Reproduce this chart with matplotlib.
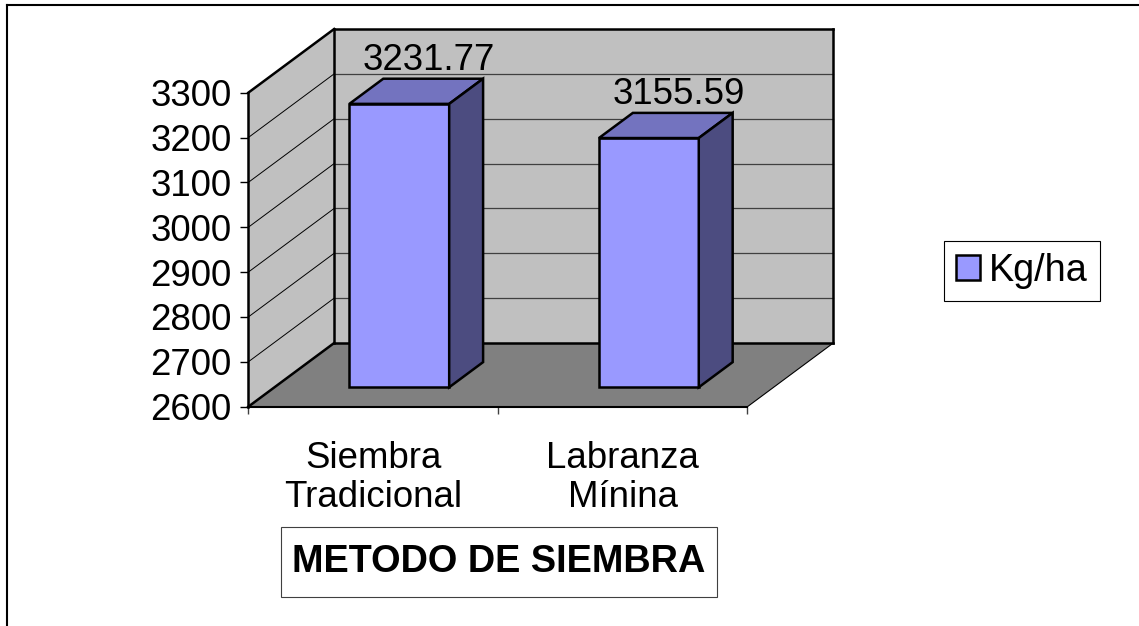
import matplotlib
matplotlib.use("Agg")
import matplotlib.pyplot as plt
from matplotlib.patches import Polygon, Patch, Rectangle
from matplotlib.lines import Line2D

# ---- data ----
categories = ["Siembra\nTradicional", "Labranza\nMínina"]
values = [3231.77, 3155.59]
value_labels = ["3231.77", "3155.59"]
y_ticks = [2600, 2700, 2800, 2900, 3000, 3100, 3200, 3300]
series_name = "Kg/ha"
axis_title = "METODO DE SIEMBRA"

plt.rcParams['font.family'] = ['Liberation Sans', 'DejaVu Sans']

FS = 26.4
W, H = 1139, 626
fig = plt.figure(figsize=(W / 100, H / 100), dpi=100)
fig.patch.set_facecolor('white')

ymin, ymax = y_ticks[0], y_ticks[-1]
n = len(categories)
DX = 0.344    # depth offset (category units)
DY = 142.0    # depth offset (value units)
F0, F1 = 0.305, 0.70   # bar front/back depth fractions
BW = 0.4

ax = fig.add_axes([248.3 / W, 1 - 406.7 / H, 585 / W, 377.7 / H])
ax.set_xlim(0, n + DX)
ax.set_ylim(ymin, ymax + DY)
for s in ax.spines.values():
    s.set_visible(False)
ax.patch.set_visible(False)

WALL = '#C0C0C0'
FLOOR = '#808080'
EDGE_LW = 1.8


def poly(pts, fc, ec='none', lw=0, z=1):
    p = Polygon(pts, closed=True, facecolor=fc, edgecolor=ec, linewidth=lw,
                zorder=z, clip_on=False, joinstyle='miter')
    ax.add_patch(p)


def line(xs, ys, lw=EDGE_LW, c='black', z=3):
    ax.plot(xs, ys, color=c, lw=lw, zorder=z, clip_on=False,
            solid_capstyle='projecting', solid_joinstyle='miter')


# walls and floor
poly([(0, ymin), (DX, ymin + DY), (DX, ymax + DY), (0, ymax)], WALL)
poly([(DX, ymin + DY), (n + DX, ymin + DY), (n + DX, ymax + DY), (DX, ymax + DY)], WALL)
poly([(0, ymin), (n, ymin), (n + DX, ymin + DY), (DX, ymin + DY)], FLOOR)

# gridlines
for v in y_ticks[1:-1]:
    ax.plot([0, DX], [v, v + DY], color='black', lw=0.7, zorder=2, clip_on=False)
    ax.plot([DX, n + DX], [v + DY, v + DY], color='#404040', lw=0.9, zorder=2, clip_on=False)

# edges
line([0, 0], [ymin, ymax])
line([0, DX], [ymax, ymax + DY])
line([DX, n + DX], [ymax + DY, ymax + DY])
line([n + DX, n + DX], [ymax + DY, ymin + DY])
line([DX, n + DX], [ymin + DY, ymin + DY])
line([DX, DX], [ymin + DY, ymax + DY])
line([0, DX], [ymin, ymin + DY])
line([0, n], [ymin, ymin], lw=1.5)
line([n, n + DX], [ymin, ymin + DY], lw=0.8)

# bars
FRONT = '#9999FF'
TOP = '#7373BF'
SIDE = '#4C4C80'
for i, v in enumerate(values):
    c = i + 0.5
    x0, x1 = c - BW / 2, c + BW / 2
    a = (F0 * DX, F0 * DY)
    b = (F1 * DX, F1 * DY)
    poly([(x0 + a[0], ymin + a[1]), (x1 + a[0], ymin + a[1]),
          (x1 + a[0], v + a[1]), (x0 + a[0], v + a[1])], FRONT, 'black', EDGE_LW, 4)
    poly([(x0 + a[0], v + a[1]), (x1 + a[0], v + a[1]),
          (x1 + b[0], v + b[1]), (x0 + b[0], v + b[1])], TOP, 'black', EDGE_LW, 4)
    poly([(x1 + a[0], ymin + a[1]), (x1 + b[0], ymin + b[1]),
          (x1 + b[0], v + b[1]), (x1 + a[0], v + a[1])], SIDE, 'black', EDGE_LW, 4)
    ax.annotate(value_labels[i], xy=(c + b[0], v + b[1]), xytext=(-3, 6.5),
                textcoords='offset points', ha='center', va='baseline',
                fontsize=FS, zorder=5, annotation_clip=False)

# ticks
ax.set_yticks(y_ticks)
ax.set_yticklabels([str(t) for t in y_ticks])
ax.tick_params(axis='y', direction='out', length=5.8, width=1.0, pad=6.2,
               labelsize=FS, colors='black')
ax.set_xticks(list(range(n + 1)))
ax.set_xticklabels([''] * (n + 1))
ax.tick_params(axis='x', which='major', direction='out', length=5.0, width=1.0,
               color='#404040')
ax.set_xticks([i + 0.5 for i in range(n)], minor=True)
ax.set_xticklabels(categories, minor=True, fontsize=FS, linespacing=1.15)
ax.tick_params(axis='x', which='minor', length=0, pad=25.0)

# legend
handles = [Patch(facecolor=FRONT, edgecolor='black', linewidth=1.8, label=series_name)]
leg = fig.legend(handles=handles, loc='center left',
                 bbox_to_anchor=(944.3 / W, 1 - 271 / H),
                 bbox_transform=fig.transFigure, frameon=True, fancybox=False,
                 edgecolor='black', framealpha=1, handlelength=0.62,
                 handleheight=0.62, handletextpad=0.25, borderpad=0.32,
                 borderaxespad=0, fontsize=27.2)
leg.get_frame().set_linewidth(0.8)

# axis title box
fig.add_artist(Rectangle((280.7 / W, 1 - 596.7 / H), 436 / W, 69.4 / H,
                         transform=fig.transFigure, facecolor='white',
                         edgecolor='#404040', linewidth=0.8))
fig.text(498.7 / W, 1 - 562 / H, axis_title, ha='center', va='center',
         fontsize=27.3, fontweight='bold')

# outer border (partially visible)
fig.add_artist(Line2D([6.5 / W, 6.5 / W], [0, 1 - 4.5 / H], transform=fig.transFigure,
                      color='black', lw=1.5))
fig.add_artist(Line2D([6.5 / W, 1], [1 - 4.5 / H, 1 - 4.5 / H], transform=fig.transFigure,
                      color='black', lw=1.5))

fig.savefig('out.png', dpi=100)
